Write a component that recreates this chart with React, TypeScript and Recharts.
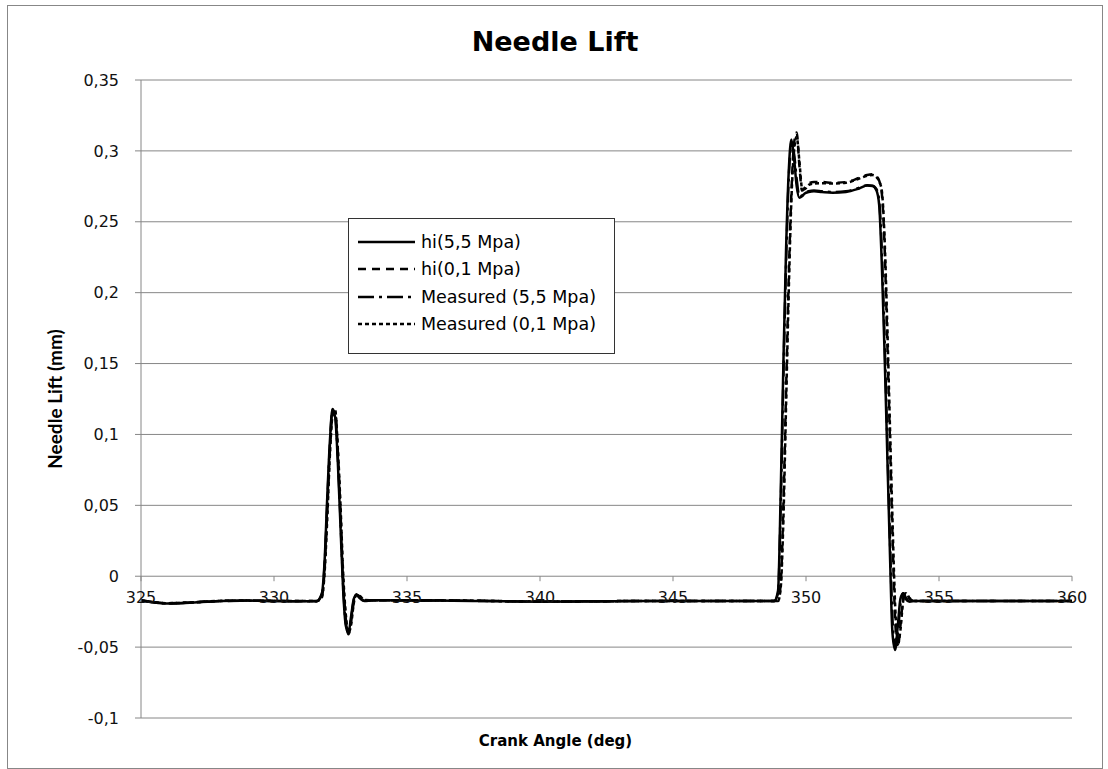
import React from "react";
import { LineChart, Line, XAxis, YAxis, CartesianGrid, Legend } from "recharts";

// crank angle (deg)
const angle = [
  325, 325.5, 326, 326.5, 327, 327.5, 328, 329, 330, 331, 331.6, 331.8, 331.9, 332.0, 332.1,
  332.2, 332.3, 332.4, 332.5, 332.6, 332.7, 332.8, 332.9, 333.0, 333.1, 333.2, 333.4, 333.7,
  334, 336, 338, 340, 342, 344, 346, 348, 348.8, 348.95, 349.05, 349.15, 349.25, 349.35,
  349.45, 349.55, 349.65, 349.75, 349.85, 349.95, 350.1, 350.3, 350.6, 351, 351.5, 352,
  352.3, 352.5, 352.65, 352.75, 352.85, 352.95, 353.05, 353.15, 353.25, 353.35, 353.45,
  353.55, 353.65, 353.75, 353.9, 354.1, 354.5, 355, 357, 360,
];

// needle lift (mm)
const hi55 = [
  -0.017, -0.0185, -0.0192, -0.019, -0.0185, -0.018, -0.0175, -0.0172, -0.0175, -0.0176, -0.0176,
  -0.012, 0.01, 0.055, 0.095, 0.118, 0.112, 0.08, 0.035, -0.01, -0.035, -0.04, -0.028, -0.016,
  -0.013, -0.015, -0.0175, -0.017, -0.017, -0.0172, -0.0175, -0.018, -0.0178, -0.0175, -0.0175,
  -0.0175, -0.0175, -0.01, 0.06, 0.15, 0.23, 0.285, 0.308, 0.295, 0.275, 0.267, 0.268, 0.27,
  0.271, 0.2715, 0.271, 0.2705, 0.271, 0.2735, 0.2755, 0.2752, 0.272, 0.262, 0.22, 0.16, 0.09,
  0.02, -0.04, -0.052, -0.035, -0.016, -0.012, -0.016, -0.018, -0.0175, -0.0175, -0.0175,
  -0.0175, -0.0175,
];

const hi01 = [
  -0.017, -0.0183, -0.019, -0.0188, -0.0183, -0.0178, -0.0174, -0.0172, -0.0174, -0.0175, -0.0175,
  -0.014, 0.004, 0.045, 0.088, 0.115, 0.116, 0.088, 0.045, -0.002, -0.03, -0.041, -0.032, -0.018,
  -0.013, -0.014, -0.017, -0.017, -0.017, -0.017, -0.0174, -0.0178, -0.0177, -0.0174, -0.0174,
  -0.0174, -0.0174, -0.0174, -0.005, 0.05, 0.13, 0.21, 0.27, 0.305, 0.313, 0.29, 0.272, 0.274,
  0.277, 0.278, 0.278, 0.2775, 0.278, 0.281, 0.283, 0.2835, 0.282, 0.279, 0.27, 0.235, 0.17,
  0.1, 0.03, -0.03, -0.05, -0.035, -0.016, -0.011, -0.016, -0.0175, -0.0175, -0.0175, -0.0175,
  -0.0175,
];

const meas55 = [
  -0.0172, -0.0186, -0.0191, -0.0189, -0.0184, -0.0179, -0.0175, -0.0173, -0.0175, -0.0176, -0.0176,
  -0.013, 0.007, 0.05, 0.092, 0.117, 0.114, 0.084, 0.04, -0.006, -0.033, -0.039, -0.03, -0.017,
  -0.013, -0.0145, -0.0173, -0.017, -0.017, -0.0171, -0.0175, -0.0179, -0.0177, -0.0175, -0.0175,
  -0.0175, -0.0175, -0.012, 0.05, 0.14, 0.22, 0.28, 0.303, 0.298, 0.28, 0.268, 0.2685, 0.2705,
  0.2715, 0.272, 0.2715, 0.271, 0.2715, 0.274, 0.2757, 0.2755, 0.273, 0.265, 0.23, 0.17, 0.1,
  0.03, -0.03, -0.05, -0.04, -0.02, -0.012, -0.015, -0.0178, -0.0175, -0.0175, -0.0175,
  -0.0175, -0.0175,
];

const meas01 = [
  -0.0171, -0.0184, -0.019, -0.0188, -0.0184, -0.0178, -0.0174, -0.0172, -0.0174, -0.0175, -0.0175,
  -0.015, 0.002, 0.04, 0.085, 0.113, 0.117, 0.09, 0.05, 0.002, -0.027, -0.04, -0.034, -0.019,
  -0.013, -0.0135, -0.0168, -0.017, -0.017, -0.017, -0.0174, -0.0178, -0.0177, -0.0174, -0.0174,
  -0.0174, -0.0174, -0.0174, -0.008, 0.04, 0.12, 0.2, 0.265, 0.3, 0.31, 0.293, 0.274, 0.273,
  0.276, 0.277, 0.2772, 0.277, 0.2775, 0.2805, 0.2825, 0.283, 0.2815, 0.2785, 0.272, 0.24, 0.18,
  0.11, 0.04, -0.02, -0.048, -0.038, -0.018, -0.012, -0.0155, -0.0175, -0.0175, -0.0175,
  -0.0175, -0.0175,
];

const xTicks = [325, 330, 335, 340, 345, 350, 355, 360];
const yTicks = [-0.1, -0.05, 0, 0.05, 0.1, 0.15, 0.2, 0.25, 0.3, 0.35];

const series = [
  { key: "hi55", name: "hi(5,5 Mpa)", values: hi55, dash: undefined },
  { key: "hi01", name: "hi(0,1 Mpa)", values: hi01, dash: "8 6" },
  { key: "meas55", name: "Measured (5,5 Mpa)", values: meas55, dash: "16 5 3 5" },
  { key: "meas01", name: "Measured (0,1 Mpa)", values: meas01, dash: "4 3" },
];

const data = angle.map((a, i) => {
  const row: Record<string, number> = { angle: a };
  series.forEach((s) => (row[s.key] = s.values[i]));
  return row;
});

const W = 1094;
const H = 762;
const MARGIN = { top: 74, right: 30, bottom: 10, left: 0 };
const XAXIS_H = 40;
const PLOT_H = H - MARGIN.top - MARGIN.bottom - XAXIS_H;
const Y_MIN = -0.1;
const Y_MAX = 0.35;
const ZERO_UP = (PLOT_H * (0 - Y_MIN)) / (Y_MAX - Y_MIN);

const GRID = "#868686";
const TICK_FONT = "'DejaVu Sans', sans-serif";

const fmt = (v: number) => String(v).replace(".", ",");

// x axis crosses at y = 0, so ticks are drawn at the zero line
const ZeroTick = (props: any) => {
  const { x, y, payload } = props;
  const zy = y - ZERO_UP;
  return (
    <g>
      <line x1={x} x2={x} y1={zy} y2={zy + 5} stroke={GRID} />
      <text x={x} y={zy + 22} textAnchor="middle" dominantBaseline="middle"
        fontFamily={TICK_FONT} fontSize={16} fill="#111">
        {payload.value}
      </text>
    </g>
  );
};

const LegendBox = () => (
  <div style={{ border: "1px solid #333", background: "#fff", width: 265, height: 125, boxSizing: "content-box", paddingTop: 9 }}>
    {series.map((s) => (
      <div key={s.key} style={{ display: "flex", alignItems: "center", height: 27.5 }}>
        <svg width={72} height={10} style={{ flex: "none" }}>
          <line x1={9} x2={66} y1={5} y2={5} stroke="#000" strokeWidth={2.4} strokeDasharray={s.dash} />
        </svg>
        <span style={{ fontFamily: TICK_FONT, fontSize: 17.5, color: "#000", whiteSpace: "nowrap" }}>{s.name}</span>
      </div>
    ))}
  </div>
);

export default function App() {
  return (
    <div style={{ position: "absolute", left: 7, top: 5, width: W, height: H, border: "1px solid #878787", background: "#fff" }}>
      <div style={{ position: "absolute", top: 22, left: 0, width: W, textAlign: "center", fontFamily: TICK_FONT, fontWeight: 700, fontSize: 27, lineHeight: "27px", color: "#000", zIndex: 1 }}>
        Needle Lift
      </div>
      <LineChart width={W} height={H} data={data} margin={MARGIN}>
        <CartesianGrid vertical={false} stroke={GRID} strokeDasharray="" />
        <XAxis
          dataKey="angle"
          type="number"
          domain={[325, 360]}
          ticks={xTicks}
          axisLine={false}
          tickLine={false}
          tickSize={0}
          tickMargin={0}
          height={XAXIS_H}
          tick={<ZeroTick />}
          label={{ value: "Crank Angle (deg)", position: "insideBottom", offset: 12, dx: -51, style: { fontFamily: TICK_FONT, fontWeight: 700, fontSize: 15, fill: "#000" } }}
        />
        <YAxis
          type="number"
          domain={[Y_MIN, Y_MAX]}
          ticks={yTicks}
          width={133}
          axisLine={{ stroke: GRID }}
          tickLine={{ stroke: GRID }}
          tickSize={6}
          tickMargin={16}
          tickFormatter={fmt}
          tick={{ fontFamily: TICK_FONT, fontSize: 16, fill: "#111" }}
          label={{ value: "Needle Lift (mm)", angle: -90, position: "insideLeft", offset: 47, style: { textAnchor: "middle", fontFamily: "Lato", fontWeight: 700, fontSize: 19, fill: "#000" } }}
        />
        <Legend
          layout="vertical"
          align="center"
          verticalAlign="middle"
          content={<LegendBox />}
          wrapperStyle={{ left: 340, top: 212, width: 267, height: 136 }}
        />
        {series.map((s) => (
          <Line
            key={s.key}
            dataKey={s.key}
            name={s.name}
            type="monotone"
            stroke="#000"
            strokeWidth={2.5}
            strokeDasharray={s.dash}
            dot={false}
            activeDot={false}
            isAnimationActive={false}
          />
        ))}
      </LineChart>
    </div>
  );
}
